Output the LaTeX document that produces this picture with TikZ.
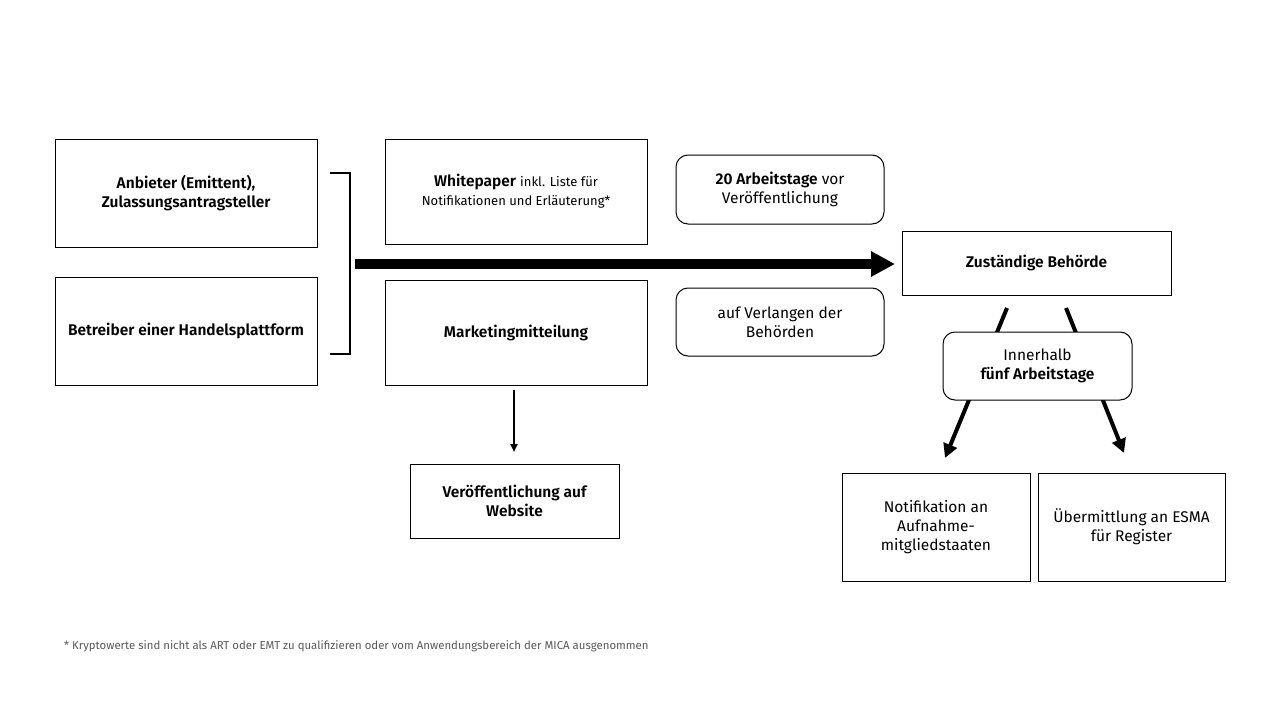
\documentclass[tikz,border=0pt]{standalone}
\usepackage{fontspec}
\setmainfont{Fira Sans}[BoldFont={Fira Sans SemiBold}]
\usetikzlibrary{arrows.meta}
\tikzset{
	box/.style={draw, line width=1pt, align=center, inner sep=0pt, font=\fontsize{15.5}{19}\selectfont},
	roundbox/.style={box, rounded corners=12pt, fill=white},
	flow/.style={line width=4pt, -{Triangle[length=14pt,width=14pt]}}
}
\begin{document}
\begin{tikzpicture}[x=1pt,y=-1pt]
		\useasboundingbox (0,0) rectangle (1280,720);
		% left side
		\node [box, minimum width=262pt, minimum height=108pt] (anbieter) at (186,193) {\bfseries Anbieter (Emittent),\\\bfseries Zulassungsantragsteller};
		\node [box, minimum width=262pt, minimum height=108pt] (betreiber) at (186,331) {\bfseries Betreiber einer Handelsplattform};
		\draw [line width=2pt] (330,173) -- (350,173) -- (350,354) -- (330,354);
		\coordinate (klammer) at (355,264);
		
		% middle
		\node [box, minimum width=262pt, minimum height=105pt] (white) at (516,191.5) {{\bfseries\fontsize{15.5}{19}\selectfont Whitepaper} {\fontsize{13}{19}\selectfont inkl. Liste für}\\{\fontsize{13}{19}\selectfont Notifikationen und Erläuterung*}};
		\node [box, minimum width=262pt, minimum height=105pt] (marketing) at (516,332.5) {\bfseries Marketingmitteilung};
		\node [box, minimum width=209pt, minimum height=74pt] (website) at (514.5,501) {\bfseries Veröffentlichung auf\\\bfseries Website};
		\coordinate (m1) at (514,390); \coordinate (m2) at (514,452);
		\draw [line width=2pt, -{Triangle[length=8pt,width=7pt]}] (m1) -- (m2);
		
		\node [roundbox, minimum width=208pt, minimum height=69pt] (vor) at (780,189.5) {{\bfseries 20 Arbeitstage} vor\\Veröffentlichung};
		\node [roundbox, minimum width=208pt, minimum height=68pt] (verlangen) at (780,322) {auf Verlangen der\\Behörden};
		
		% authority
		\node [box, minimum width=269pt, minimum height=64pt] (behoerde) at (1036.5,263) {\bfseries Zuständige Behörde};
		\coordinate (spitze) at (895,264);
		\draw [line width=10pt, -{Triangle[length=24pt,width=24pt]}] (klammer) -- (spitze);
		
		\coordinate (l1) at (1007,308); \coordinate (l2) at (945,458);
		\coordinate (r1) at (1066,308); \coordinate (r2) at (1124,453);
		\draw [flow] (l1) -- (l2);
		\draw [flow] (r1) -- (r2);
		\node [roundbox, minimum width=189pt, minimum height=68pt] (frist) at (1037.5,366) {Innerhalb\\\bfseries fünf Arbeitstage};
		
		\node [box, minimum width=188pt, minimum height=108pt] (notif) at (936,527) {Notifikation an\\Aufnahme-\\mitgliedstaaten};
		\node [box, minimum width=187pt, minimum height=108pt] (esma) at (1131.5,527) {Übermittlung an ESMA\\für Register};
		
		% footnote
		\node [anchor=west, inner sep=0pt, text=black!65, font=\fontsize{11.4}{13}\selectfont] (fussnote) at (64,646) {* Kryptowerte sind nicht als ART oder EMT zu qualifizieren oder vom Anwendungsbereich der MICA ausgenommen};
\end{tikzpicture}
\end{document}
